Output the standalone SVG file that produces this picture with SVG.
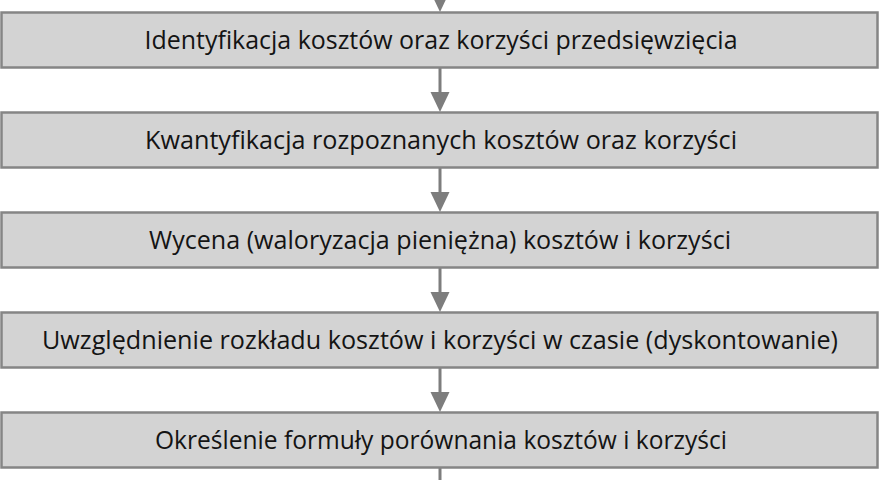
<svg xmlns="http://www.w3.org/2000/svg" width="880" height="480" viewBox="0 0 880 480">
<style>
.box{fill:#d3d3d3;stroke:#858585;stroke-width:2.5}
.lbl{font-family:"Open Sans","Noto Sans","DejaVu Sans",sans-serif;font-size:26px;fill:#141414;text-anchor:middle}
.ln{stroke:#7d7d7d;stroke-width:3;fill:none}
.hd{fill:#7d7d7d}
</style>
<rect width="880" height="480" fill="#ffffff"/>
<g id="connectors">
<line class="ln" x1="440" y1="0" x2="440" y2="4"/>
<polygon class="hd" points="430.5,-8 449.5,-8 440,12"/>
<line class="ln" x1="440" y1="68" x2="440" y2="94"/>
<polygon class="hd" points="430.5,92 449.5,92 440,112"/>
<line class="ln" x1="440" y1="168" x2="440" y2="194"/>
<polygon class="hd" points="430.5,192 449.5,192 440,212"/>
<line class="ln" x1="440" y1="268" x2="440" y2="294"/>
<polygon class="hd" points="430.5,292 449.5,292 440,312"/>
<line class="ln" x1="440" y1="368" x2="440" y2="394"/>
<polygon class="hd" points="430.5,392 449.5,392 440,412"/>
<line class="ln" x1="440" y1="468" x2="440" y2="480"/>
</g>
<g id="node1">
<rect class="box" x="1.5" y="12.5" width="876" height="55"/>
<text class="lbl" x="441" y="48.5" textLength="593" lengthAdjust="spacingAndGlyphs">Identyfikacja kosztów oraz korzyści przedsięwzięcia</text>
</g>
<g id="node2">
<rect class="box" x="1.5" y="112.5" width="876" height="55"/>
<text class="lbl" x="441" y="148.5" textLength="592" lengthAdjust="spacingAndGlyphs">Kwantyfikacja rozpoznanych kosztów oraz korzyści</text>
</g>
<g id="node3">
<rect class="box" x="1.5" y="212.5" width="876" height="55"/>
<text class="lbl" x="440" y="248.5" textLength="582" lengthAdjust="spacingAndGlyphs">Wycena (waloryzacja pieniężna) kosztów i korzyści</text>
</g>
<g id="node4">
<rect class="box" x="1.5" y="312.5" width="876" height="55"/>
<text class="lbl" x="440" y="348.5" textLength="796" lengthAdjust="spacingAndGlyphs">Uwzględnienie rozkładu kosztów i korzyści w czasie (dyskontowanie)</text>
</g>
<g id="node5">
<rect class="box" x="1.5" y="412.5" width="876" height="55"/>
<text class="lbl" x="441" y="448.5" textLength="572" lengthAdjust="spacingAndGlyphs">Określenie formuły porównania kosztów i korzyści</text>
</g>
</svg>
